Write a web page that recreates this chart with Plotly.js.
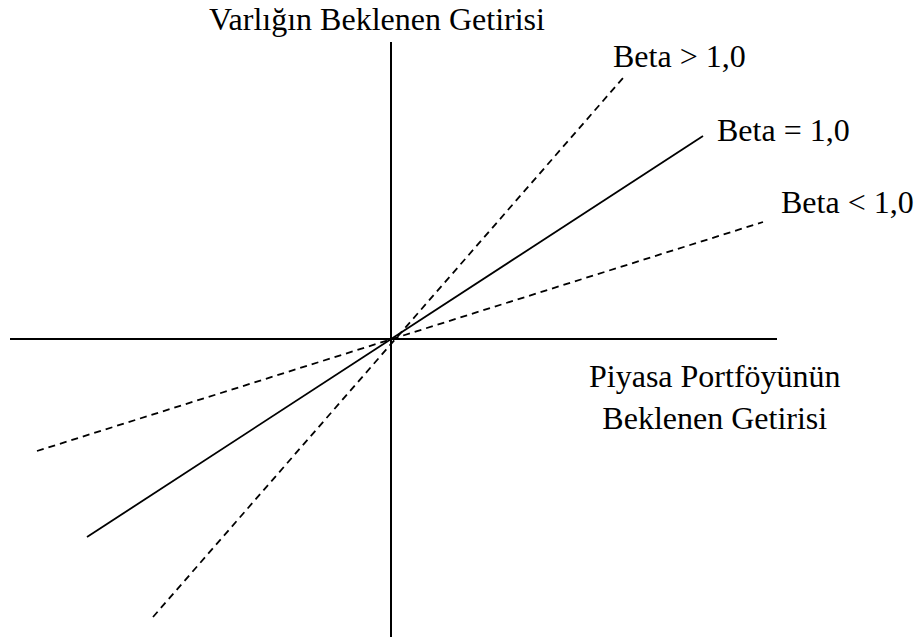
<!DOCTYPE html>
<html>
<head>
<meta charset="utf-8">
<script src="https://cdn.plot.ly/plotly-3.0.1.min.js"></script>
<style>html,body{margin:0;padding:0;background:#fff;}#chart{width:921px;height:637px;}</style>
</head>
<body>
<div id="chart"></div>
<script>
// Line endpoints (data units, origin at the axes crossing)
const lineNames = ["Beta > 1,0", "Beta = 1,0", "Beta < 1,0"];
const lineX = [[-238, 232], [-304, 312], [-354, 372]];
const lineY = [[-278, 261], [-198, 203], [-112, 117]];
const lineDash = ["7px,5px", "solid", "7px,5px"];

// Axis lines
const hAxisX = [-381, 386];
const hAxisY = [0, 0];
const vAxisX = [0, 0];
const vAxisY = [-298, 297];

const yTitle = "Varlığın Beklenen Getirisi";
const xTitle = "Piyasa Portföyünün<br>Beklenen Getirisi";

const font = {family: "'Times New Roman', 'Liberation Serif', serif", size: 32, color: "#000"};

const traces = [
  {x: hAxisX, y: hAxisY, mode: "lines", line: {color: "#000", width: 2}, hoverinfo: "skip"},
  {x: vAxisX, y: vAxisY, mode: "lines", line: {color: "#000", width: 2}, hoverinfo: "skip"}
];
lineNames.forEach((n, i) => {
  traces.push({x: lineX[i], y: lineY[i], mode: "lines", name: n,
    line: {color: "#000", width: 1.8, dash: lineDash[i]}});
});

const annotations = [
  {x: -14, y: 320, text: yTitle},
  {x: 288, y: 283, text: lineNames[0]},
  {x: 392, y: 209, text: lineNames[1]},
  {x: 456, y: 137, text: lineNames[2]},
  {x: 324, y: -58, text: xTitle}
].map(a => Object.assign({xref: "x", yref: "y", showarrow: false, font: font,
  xanchor: "center", yanchor: "middle"}, a));

const layout = {
  width: 921, height: 637,
  margin: {l: 0, r: 0, t: 0, b: 0},
  paper_bgcolor: "#fff", plot_bgcolor: "#fff",
  showlegend: false,
  font: font,
  xaxis: {range: [-391, 530], visible: false, fixedrange: true},
  yaxis: {range: [-298, 339], visible: false, fixedrange: true},
  annotations: annotations
};
Plotly.newPlot("chart", traces, layout, {staticPlot: true});
</script>
</body>
</html>
